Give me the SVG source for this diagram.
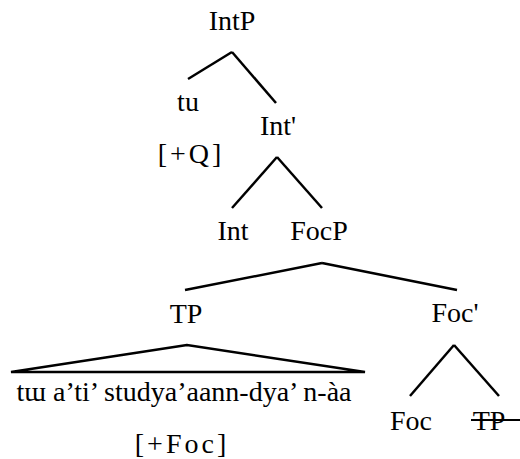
<svg xmlns="http://www.w3.org/2000/svg" width="520" height="459" viewBox="0 0 520 459">
<style>
text{font-family:"Liberation Serif","Times New Roman",Tinos,"DejaVu Serif",serif;font-size:28px;fill:#000;text-anchor:middle}
.feat{letter-spacing:3px}
.edges line,.edges polygon{stroke:#000;stroke-width:2.5;fill:none;stroke-linecap:butt}
</style>
<rect width="520" height="459" fill="#fff"/>
<g class="edges" id="connectors">
<line x1="232" y1="52" x2="188" y2="79"/>
<line x1="232" y1="52" x2="276" y2="103"/>
<line x1="277" y1="157" x2="232" y2="208"/>
<line x1="277" y1="157" x2="322" y2="208"/>
<line x1="322" y1="263" x2="185" y2="290"/>
<line x1="322" y1="263" x2="457" y2="290"/>
<polygon points="187,345 11,372 365,372"/>
<line x1="454" y1="345" x2="410" y2="396"/>
<line x1="454" y1="345" x2="499" y2="396"/>
</g>
<g id="IntP"><text x="232" y="30">IntP</text></g>
<g id="tu"><text x="188" y="111">tu</text><text class="feat" x="191" y="163">[+Q]</text></g>
<g id="IntBar"><text x="278" y="135">Int'</text></g>
<g id="Int"><text x="233" y="240">Int</text></g>
<g id="FocP"><text x="319" y="240">FocP</text></g>
<g id="TP"><text x="186" y="323">TP</text>
<text x="184" y="401">tɯ a’ti’ studya’aann-dya’ n-àa</text>
<text class="feat" x="182" y="453">[+Foc]</text></g>
<g id="FocBar"><text x="455" y="322">Foc'</text></g>
<g id="Foc"><text x="411" y="430">Foc</text></g>
<g id="TPtrace"><text x="489" y="430">TP</text><line x1="471" y1="420" x2="520" y2="420" stroke="#000" stroke-width="2"/></g>
</svg>
